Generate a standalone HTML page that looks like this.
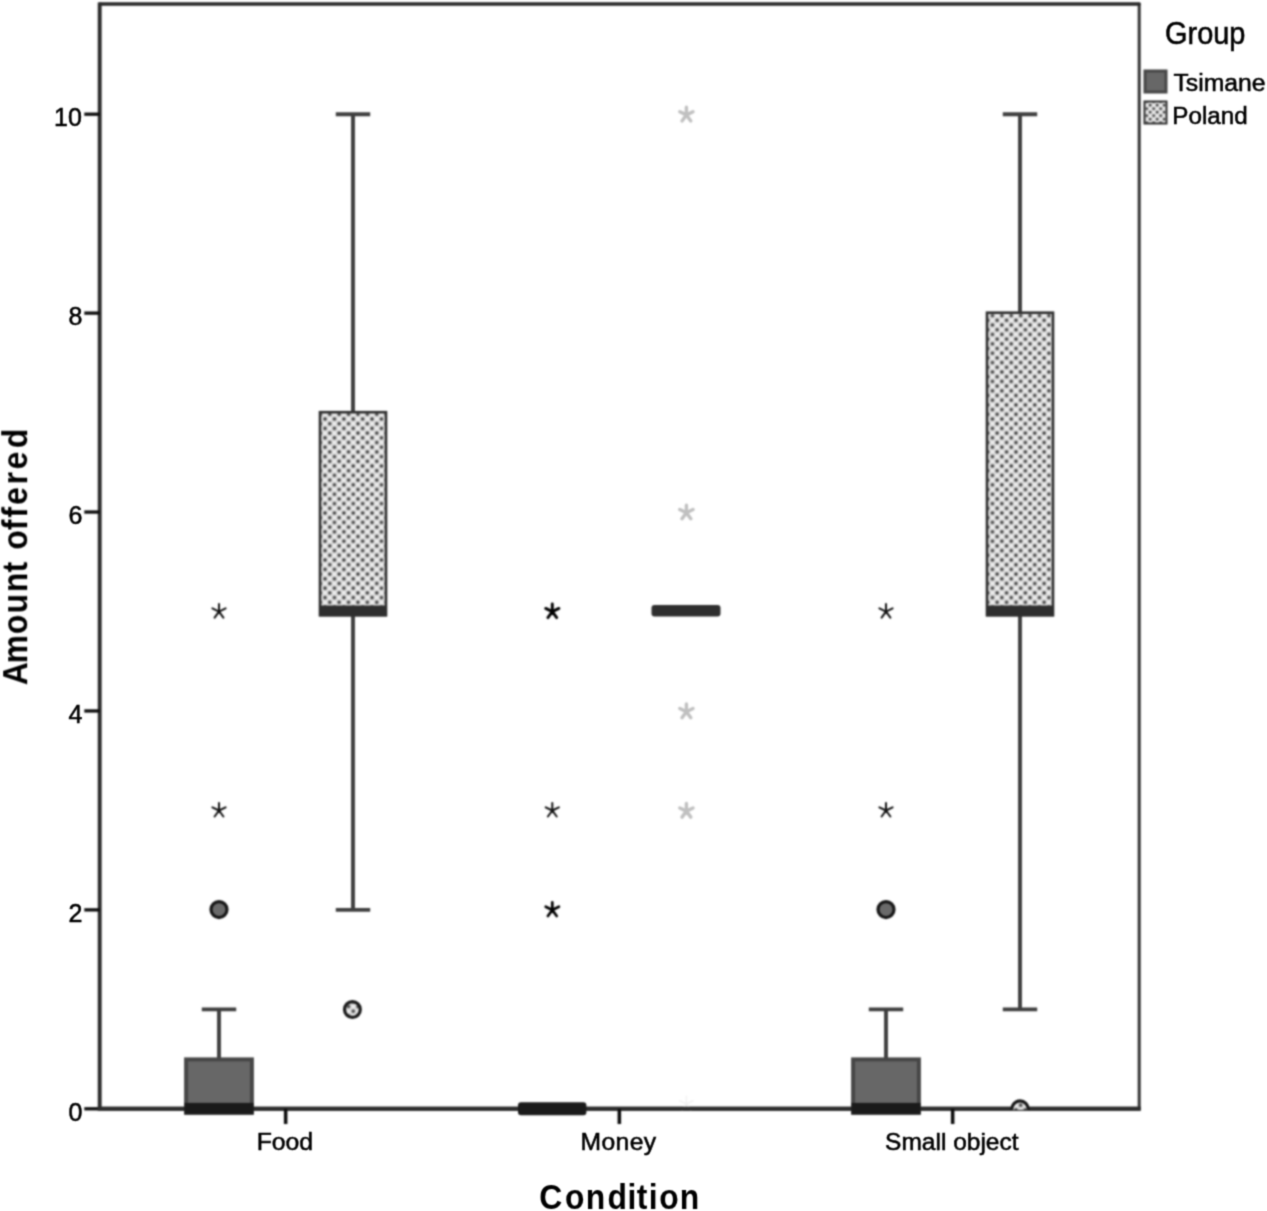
<!DOCTYPE html>
<html><head><meta charset="utf-8"><title>Boxplot</title>
<style>
html,body{margin:0;padding:0;background:#fff;}
body{width:1267px;height:1211px;overflow:hidden;}
svg{display:block;}
#wrap{width:1267px;height:1211px;}
text{font-family:"Liberation Sans",sans-serif;fill:#000;stroke:#000;stroke-width:0.55px;}
.b{font-weight:bold;stroke:none;}
</style></head><body>
<div id="wrap"><svg width="1267" height="1211" viewBox="0 0 1267 1211">
<defs>
<filter id="soft" color-interpolation-filters="sRGB" x="0" y="0" width="1267" height="1211" filterUnits="userSpaceOnUse"><feConvolveMatrix order="5" kernelMatrix="0.00142 0.00904 0.01675 0.00904 0.00142 0.00904 0.05757 0.10673 0.05757 0.00904 0.01675 0.10673 0.19786 0.10673 0.01675 0.00904 0.05757 0.10673 0.05757 0.00904 0.00142 0.00904 0.01675 0.00904 0.00142" divisor="1" edgeMode="duplicate" preserveAlpha="false"/></filter>
<filter id="softt" color-interpolation-filters="sRGB" x="0" y="0" width="1267" height="1211" filterUnits="userSpaceOnUse"><feConvolveMatrix order="3" kernelMatrix="0.0400 0.1200 0.0400 0.1200 0.3600 0.1200 0.0400 0.1200 0.0400" divisor="1" edgeMode="duplicate" preserveAlpha="false"/></filter>
<pattern id="dots" x="320.35" y="414.3" width="9.4" height="9.4" patternUnits="userSpaceOnUse"><rect width="9.4" height="9.4" fill="#eeeeee"/><circle cx="4.7" cy="4.7" r="3.0" fill="#cecece"/><circle cx="0" cy="0" r="3.0" fill="#cecece"/><circle cx="9.4" cy="0" r="3.0" fill="#cecece"/><circle cx="0" cy="9.4" r="3.0" fill="#cecece"/><circle cx="9.4" cy="9.4" r="3.0" fill="#cecece"/><circle cx="4.7" cy="4.7" r="1.6" fill="#3a3a3a"/><circle cx="0" cy="0" r="1.6" fill="#3a3a3a"/><circle cx="9.4" cy="0" r="1.6" fill="#3a3a3a"/><circle cx="0" cy="9.4" r="1.6" fill="#3a3a3a"/><circle cx="9.4" cy="9.4" r="1.6" fill="#3a3a3a"/></pattern>
<pattern id="dots2" x="1150.2" y="105.2" width="7" height="7" patternUnits="userSpaceOnUse"><rect width="7" height="7" fill="#eeeeee"/><circle cx="3.5" cy="3.5" r="2.3" fill="#cecece"/><circle cx="0" cy="0" r="2.3" fill="#cecece"/><circle cx="7" cy="0" r="2.3" fill="#cecece"/><circle cx="0" cy="7" r="2.3" fill="#cecece"/><circle cx="7" cy="7" r="2.3" fill="#cecece"/><circle cx="3.5" cy="3.5" r="1.3" fill="#3a3a3a"/><circle cx="0" cy="0" r="1.3" fill="#3a3a3a"/><circle cx="7" cy="0" r="1.3" fill="#3a3a3a"/><circle cx="0" cy="7" r="1.3" fill="#3a3a3a"/><circle cx="7" cy="7" r="1.3" fill="#3a3a3a"/></pattern>
<g id="star"><path d="M0 0L0 -7.6M0 0L6.6 -3.2M0 0L4.4 6M0 0L-4.4 6M0 0L-6.6 -3.2M-0.6 0.2L0.6 0.2" fill="none" stroke-linecap="round"/></g>
</defs>
<rect width="1267" height="1211" fill="#fff"/>
<g filter="url(#soft)">
<rect width="1267" height="1211" fill="#fff"/>

<path d="M1139.2 4 V1108.8" fill="none" stroke="#343434" stroke-width="3" stroke-linecap="round"/>
<path d="M99.7 4 H1139.2" fill="none" stroke="#272727" stroke-width="3.3" stroke-linecap="round"/>
<path d="M99.7 2.5 V1108.8 H1140.7" fill="none" stroke="#2c2c2c" stroke-width="3.9" stroke-linejoin="round"/>
<line x1="84.3" y1="1108.8" x2="99.7" y2="1108.8" stroke="#0c0c0c" stroke-width="3.3"/>
<line x1="84.3" y1="909.88" x2="99.7" y2="909.88" stroke="#0c0c0c" stroke-width="3.3"/>
<line x1="84.3" y1="710.96" x2="99.7" y2="710.96" stroke="#0c0c0c" stroke-width="3.3"/>
<line x1="84.3" y1="512.04" x2="99.7" y2="512.04" stroke="#0c0c0c" stroke-width="3.3"/>
<line x1="84.3" y1="313.12" x2="99.7" y2="313.12" stroke="#0c0c0c" stroke-width="3.3"/>
<line x1="84.3" y1="114.2" x2="99.7" y2="114.2" stroke="#0c0c0c" stroke-width="3.3"/>
<line x1="285.6" y1="1108.8" x2="285.6" y2="1124" stroke="#0c0c0c" stroke-width="3.3"/>
<line x1="619.4" y1="1108.8" x2="619.4" y2="1124" stroke="#0c0c0c" stroke-width="3.3"/>
<line x1="952.6" y1="1108.8" x2="952.6" y2="1124" stroke="#0c0c0c" stroke-width="3.3"/>
<rect x="1145" y="71" width="21" height="21" fill="#676767" stroke="#464646" stroke-width="3"/>
<rect x="1144.5" y="101.5" width="22" height="22" fill="url(#dots2)" stroke="#303030" stroke-width="2"/>
<line x1="219" y1="1009.34" x2="219" y2="1059.07" stroke="#3e3e3e" stroke-width="3.9"/>
<line x1="201.8" y1="1009.34" x2="236.2" y2="1009.34" stroke="#3e3e3e" stroke-width="3.9"/>
<rect x="186.1" y="1059.4" width="65.8" height="53.2" fill="#676767" stroke="#464646" stroke-width="4"/>
<circle cx="219" cy="909.58" r="8.0" fill="#6a6a6a" stroke="#161616" stroke-width="3.2"/>
<use href="#star" x="219" y="810.52" stroke="#111" stroke-width="2.0"/>
<use href="#star" x="219" y="611.60" stroke="#111" stroke-width="2.0"/>
<line x1="353" y1="114.2" x2="353" y2="909.88" stroke="#3e3e3e" stroke-width="3.9"/>
<line x1="335.8" y1="114.2" x2="370.2" y2="114.2" stroke="#3e3e3e" stroke-width="3.9"/>
<line x1="335.8" y1="909.88" x2="370.2" y2="909.88" stroke="#3e3e3e" stroke-width="3.9"/>
<rect x="320" y="412.2" width="66" height="203.0" fill="url(#dots)" stroke="#303030" stroke-width="2.6"/>
<rect x="319.1" y="605.5" width="67.8" height="10.9" fill="#2e2e2e"/>
<circle cx="352.4" cy="1009.44" r="7.9" fill="url(#dots)" stroke="#1a1a1a" stroke-width="3.2"/>
<use href="#star" x="552.3" y="909.98" stroke="#000" stroke-width="2.7"/>
<use href="#star" x="552.3" y="810.52" stroke="#111" stroke-width="2.0"/>
<use href="#star" x="552.3" y="611.60" stroke="#000" stroke-width="2.9"/>
<rect x="651.5" y="605" width="69" height="11.5" rx="3" fill="#2e2e2e"/>
<use href="#star" x="686.4" y="114.90" stroke="#c0c0c0" stroke-width="3.4" transform="translate(0,0)"/>
<use href="#star" x="686.4" y="512.74" stroke="#c0c0c0" stroke-width="3.4" transform="translate(0,0)"/>
<use href="#star" x="686.4" y="711.66" stroke="#c0c0c0" stroke-width="3.4" transform="translate(0,0)"/>
<use href="#star" x="686.4" y="811.12" stroke="#c0c0c0" stroke-width="3.4" transform="translate(0,0)"/>
<use href="#star" x="686.4" y="1103.93" stroke="#f2f2f2" stroke-width="1.6"/>
<line x1="886" y1="1009.34" x2="886" y2="1059.07" stroke="#3e3e3e" stroke-width="3.9"/>
<line x1="868.8" y1="1009.34" x2="903.2" y2="1009.34" stroke="#3e3e3e" stroke-width="3.9"/>
<rect x="853.1" y="1059.4" width="65.8" height="53.2" fill="#676767" stroke="#464646" stroke-width="4"/>
<circle cx="886" cy="909.58" r="8.0" fill="#6a6a6a" stroke="#161616" stroke-width="3.2"/>
<use href="#star" x="886" y="810.52" stroke="#111" stroke-width="2.0"/>
<use href="#star" x="886" y="611.60" stroke="#111" stroke-width="2.0"/>
<line x1="1020" y1="114.2" x2="1020" y2="1009.34" stroke="#3e3e3e" stroke-width="3.9"/>
<line x1="1002.8" y1="114.2" x2="1037.2" y2="114.2" stroke="#3e3e3e" stroke-width="3.9"/>
<line x1="1002.8" y1="1009.34" x2="1037.2" y2="1009.34" stroke="#3e3e3e" stroke-width="3.9"/>
<rect x="987" y="312.7" width="66" height="302.5" fill="url(#dots)" stroke="#303030" stroke-width="2.6"/>
<rect x="986.1" y="605.5" width="67.8" height="10.9" fill="#2e2e2e"/>
<line x1="97.6" y1="1108.8" x2="1140.7" y2="1108.8" stroke="#2c2c2c" stroke-width="3.9"/>
<line x1="285.6" y1="1108.8" x2="285.6" y2="1124" stroke="#0c0c0c" stroke-width="3.3"/>
<line x1="619.4" y1="1108.8" x2="619.4" y2="1124" stroke="#0c0c0c" stroke-width="3.3"/>
<line x1="952.6" y1="1108.8" x2="952.6" y2="1124" stroke="#0c0c0c" stroke-width="3.3"/>
<clipPath id="cl0"><rect x="1000" y="1080" width="40" height="29.8"/></clipPath>
<circle cx="1020" cy="1109.1" r="8.2" fill="url(#dots)" stroke="#161616" stroke-width="3.2" clip-path="url(#cl0)"/>
<rect x="184.4" y="1102.9" width="69.2" height="11.7" fill="#1a1a1a"/>
<rect x="851.4" y="1102.9" width="69.2" height="11.7" fill="#1a1a1a"/>
<rect x="518" y="1102.3" width="68.4" height="13" rx="3" fill="#1a1a1a"/>
</g>
<g filter="url(#softt)">
<text transform="translate(82.3,1120.9) scale(1,1.05)" font-size="25" text-anchor="end">0</text>
<text transform="translate(82.3,922.0) scale(1,1.05)" font-size="25" text-anchor="end">2</text>
<text transform="translate(82.3,723.1) scale(1,1.05)" font-size="25" text-anchor="end">4</text>
<text transform="translate(82.3,524.1) scale(1,1.05)" font-size="25" text-anchor="end">6</text>
<text transform="translate(82.3,325.2) scale(1,1.05)" font-size="25" text-anchor="end">8</text>
<text transform="translate(81.9,126.3) scale(1,1.05)" font-size="25" text-anchor="end">10</text>
<text x="284.9" y="1150" font-size="24.8" text-anchor="middle">Food</text>
<text x="580.4" y="1150" font-size="24.7" textLength="75.8" lengthAdjust="spacing">Money</text>
<text x="951.8" y="1150" font-size="24.5" text-anchor="middle">Small object</text>
<text class="b" transform="translate(0,1208.8) scale(0.91,1)" font-size="35" x="592.7 621.0 643.8 667.7 689.6 699.8 713.0 724.5 746.9" y="0">Condition</text>
<text class="b" transform="translate(27.2,684.7) rotate(-90) scale(0.91,1)" font-size="35" x="-0.4 23.4 55.6 78.4 101.8 123.4 137.4 148.5 169.9 183.6 197.6 220.1 236.6 259.9" y="0">Amount offered</text>
<text x="1165" y="44.3" font-size="30.6" textLength="80.4" lengthAdjust="spacingAndGlyphs">Group</text>
<text x="1173.4" y="91.4" font-size="24.75">Tsimane</text>
<text x="1172.3" y="123.8" font-size="24.2">Poland</text>
</g></svg></div></body></html>
